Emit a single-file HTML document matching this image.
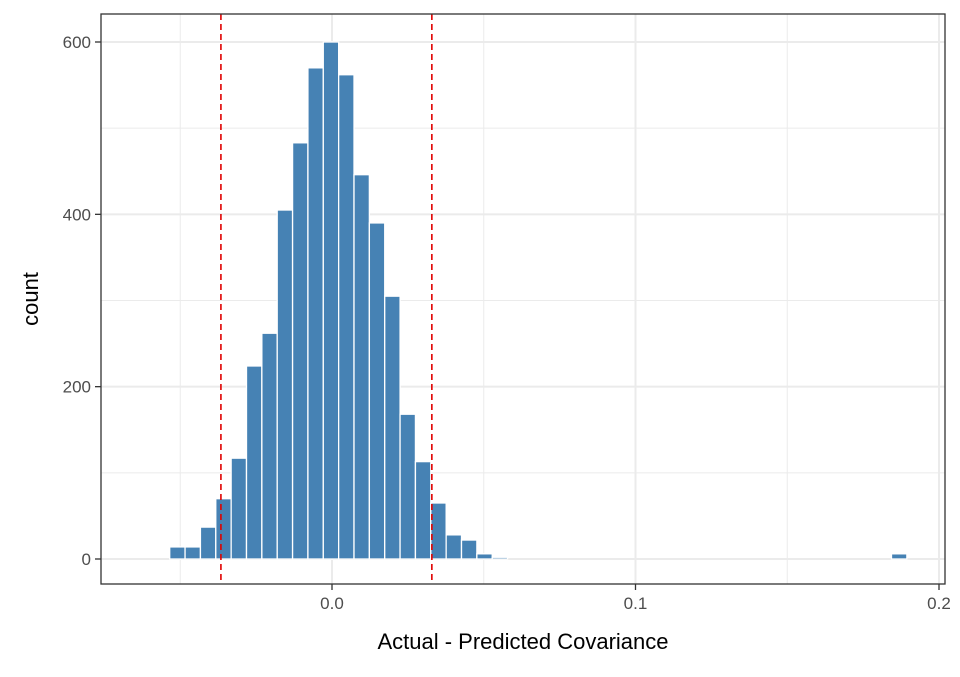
<!DOCTYPE html>
<html><head><meta charset="utf-8"><style>
body{margin:0;background:#fff;font-family:"Liberation Sans",Arial,sans-serif}
</style></head><body>
<svg id="chart" width="960" height="672" xmlns="http://www.w3.org/2000/svg"></svg>
<script>
const binStart = -0.06359;
const binWidth = 0.00506;
const counts = [0,0,14,14,37,70,117,224,262,405,483,570,600,562,446,390,305,168,113,65,28,22,6,2,0,0,0,0,0,0,0,0,0,0,0,0,0,0,0,0,0,0,0,0,0,0,0,0,0,6];
const vlines = [-0.0366, 0.0329];
const xTicks = [0, 0.1, 0.2];
const xTickLabels = ["0.0","0.1","0.2"];
const xMinor = [-0.05, 0.05, 0.15];
const yTicks = [0, 200, 400, 600];
const yMinor = [100, 300, 500];

const L=101,R=945,T=14,B=584;
const x0=332, xs=3035;
function X(v){return x0+v*xs;}
function Y(c){return 559-c*0.86167;}
const svg=document.getElementById('chart');
const NS='http://www.w3.org/2000/svg';
function mk(tag,attrs,parent){const e=document.createElementNS(NS,tag);for(const k in attrs)e.setAttribute(k,attrs[k]);(parent||svg).appendChild(e);return e;}

const grid=mk('g',{});


xMinor.forEach(v=>{mk('line',{x1:X(v),x2:X(v),y1:T,y2:B,stroke:'#ebebeb','stroke-width':1},grid);});
yMinor.forEach(v=>{mk('line',{x1:L,x2:R,y1:Y(v),y2:Y(v),stroke:'#ebebeb','stroke-width':1},grid);});
xTicks.forEach(v=>{mk('line',{x1:X(v),x2:X(v),y1:T,y2:B,stroke:'#ebebeb','stroke-width':2},grid);});
yTicks.forEach(v=>{mk('line',{x1:L,x2:R,y1:Y(v),y2:Y(v),stroke:'#ebebeb','stroke-width':2},grid);});

const bars=mk('g',{});


counts.forEach((c,i)=>{
  const xl=X(binStart+i*binWidth), xr=X(binStart+(i+1)*binWidth);
  const r=mk('rect',{x:xl,y:Y(c),width:xr-xl,height:Y(0)-Y(c),fill:'#4682b4',stroke:'#fff','stroke-width':1.3},bars);
  
  
});

vlines.forEach(v=>{
  const l=mk('line',{x1:X(v),x2:X(v),y1:T,y2:B,stroke:'#e00000','stroke-width':1.6,'stroke-dasharray':'6,4'});
  
  
});

const frame=mk('rect',{x:L,y:T,width:R-L,height:B-T,fill:'none',stroke:'#333','stroke-width':1.3});



xTicks.forEach((v,i)=>{
  mk('line',{x1:X(v),x2:X(v),y1:B,y2:B+6,stroke:'#333','stroke-width':1.3});
  const t=mk('text',{x:X(v),y:B+25,'text-anchor':'middle','font-size':17,fill:'#4d4d4d'});
  t.textContent=xTickLabels[i];
  
  
});
yTicks.forEach(v=>{
  mk('line',{x1:L-6,x2:L,y1:Y(v),y2:Y(v),stroke:'#333','stroke-width':1.3});
  const t=mk('text',{x:L-10,y:Y(v)+6,'text-anchor':'end','font-size':17,fill:'#4d4d4d'});
  t.textContent=String(v);
  
  
});
const xt=mk('text',{x:(L+R)/2,y:649,'text-anchor':'middle','font-size':22,fill:'#000'});
xt.textContent='Actual - Predicted Covariance';


const yt=mk('text',{x:0,y:0,'text-anchor':'middle','font-size':22,fill:'#000',transform:'translate(38,299) rotate(-90)'});
yt.textContent='count';


</script>
</body></html>
